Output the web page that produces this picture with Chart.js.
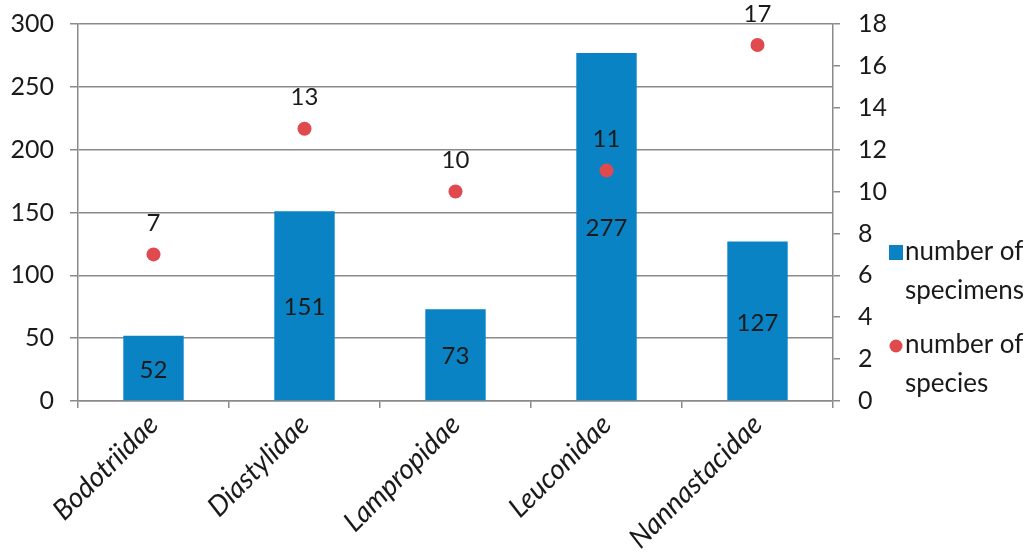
<!DOCTYPE html>
<html>
<head>
<meta charset="utf-8">
<script src="https://cdn.jsdelivr.net/npm/chart.js@4.4.1/dist/chart.umd.min.js"></script>
<style>
html,body{margin:0;padding:0;background:#fff;}
#wrap{width:1030px;height:553px;}
</style>
</head>
<body>
<div id="wrap"><canvas id="c" width="1030" height="553"></canvas></div>
<script>
const categories = ["Bodotriidae", "Diastylidae", "Lampropidae", "Leuconidae", "Nannastacidae"];
const specimens = [52, 151, 73, 277, 127];
const species = [7, 13, 10, 11, 17];
const seriesNames = [["number of", "specimens"], ["number of", "species"]];

const BLUE = '#0a83c5';
const RED = '#e04a4f';
const TEXT = '#1a1a1a';
const GRID = '#8a8a8a';
const FONT = 'Lato';

function noPad(scale) {
  scale.paddingTop = 0; scale.paddingBottom = 0;
  scale.paddingLeft = 0; scale.paddingRight = 0;
}

const labelPlugin = {
  id: 'valueLabels',
  afterDatasetsDraw(chart) {
    const ctx = chart.ctx;
    ctx.save();
    ctx.font = '24px ' + FONT;
    ctx.fillStyle = TEXT;
    ctx.textAlign = 'center';
    ctx.textBaseline = 'middle';
    chart.data.datasets.forEach((ds, di) => {
      const meta = chart.getDatasetMeta(di);
      meta.data.forEach((el, i) => {
        const v = ds.data[i];
        if (meta.type === 'bar') {
          ctx.fillText(String(v), el.x, (el.y + el.base) / 2 + 2);
        } else {
          ctx.fillText(String(v), el.x, el.y - 31);
        }
      });
    });
    ctx.restore();
  }
};

const legendPlugin = {
  id: 'customLegend',
  afterDraw(chart) {
    const ctx = chart.ctx;
    ctx.save();
    ctx.font = '26px ' + FONT;
    ctx.fillStyle = TEXT;
    ctx.textAlign = 'left';
    ctx.textBaseline = 'middle';
    ctx.fillStyle = BLUE;
    ctx.fillRect(889, 245, 14, 15);
    ctx.fillStyle = TEXT;
    ctx.fillText(seriesNames[0][0], 905, 252);
    ctx.fillText(seriesNames[0][1], 905, 291);
    ctx.fillStyle = RED;
    ctx.beginPath();
    ctx.arc(896, 346, 6.5, 0, Math.PI * 2);
    ctx.fill();
    ctx.fillStyle = TEXT;
    ctx.fillText(seriesNames[1][0], 905, 345);
    ctx.fillText(seriesNames[1][1], 905, 384);
    ctx.restore();
  }
};

new Chart(document.getElementById('c'), {
  type: 'bar',
  data: {
    labels: categories,
    datasets: [
      {
        type: 'bar',
        label: seriesNames[0].join(' '),
        data: specimens,
        backgroundColor: BLUE,
        borderWidth: 0,
        barPercentage: 0.4,
        categoryPercentage: 1.0,
        yAxisID: 'y',
        order: 2
      },
      {
        type: 'line',
        label: seriesNames[1].join(' '),
        data: species,
        showLine: false,
        pointRadius: 7,
        pointHoverRadius: 7,
        pointBackgroundColor: RED,
        pointBorderColor: RED,
        pointBorderWidth: 0,
        yAxisID: 'y1',
        order: 1
      }
    ]
  },
  options: {
    responsive: false,
    animation: false,
    devicePixelRatio: 1,
    layout: { padding: { top: 24, left: 0, right: 0, bottom: 0 } },
    plugins: {
      legend: { display: false },
      tooltip: { enabled: false }
    },
    scales: {
      x: {
        offset: true,
        grid: {
          offset: true,
          drawOnChartArea: false,
          drawTicks: true,
          tickLength: 7,
          color: GRID,
          lineWidth: 1.5
        },
        border: { display: true, color: GRID, width: 1.5 },
        ticks: {
          color: TEXT,
          font: { family: FONT, size: 28, style: 'italic' },
          maxRotation: 45,
          minRotation: 45,
          padding: 0
        },
        afterFit(scale) { scale.height = 152; noPad(scale); }
      },
      y: {
        position: 'left',
        min: 0,
        max: 300,
        ticks: {
          stepSize: 50,
          color: TEXT,
          font: { family: FONT, size: 25 },
          padding: 16
        },
        grid: {
          color: GRID,
          lineWidth: 1.5,
          tickLength: 8,
          drawTicks: true
        },
        border: { display: true, color: GRID, width: 1.5 },
        afterFit(scale) { scale.width = 78; noPad(scale); }
      },
      y1: {
        position: 'right',
        min: 0,
        max: 18,
        ticks: {
          stepSize: 2,
          color: TEXT,
          font: { family: FONT, size: 25 },
          padding: 18
        },
        grid: {
          drawOnChartArea: false,
          color: GRID,
          lineWidth: 1.5,
          tickLength: 7
        },
        border: { display: true, color: GRID, width: 1.5 },
        afterFit(scale) { scale.width = 197; noPad(scale); }
      }
    }
  },
  plugins: [labelPlugin, legendPlugin]
});
</script>
</body>
</html>
